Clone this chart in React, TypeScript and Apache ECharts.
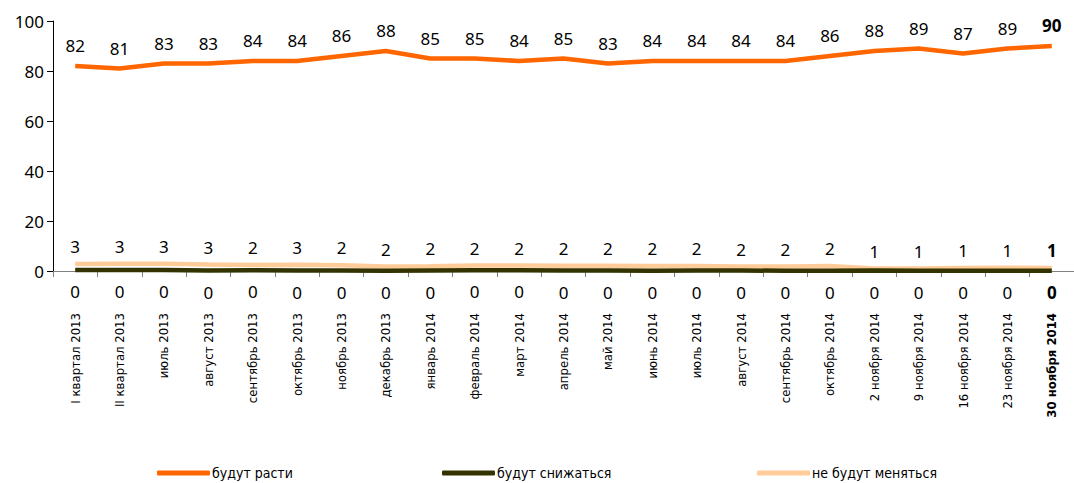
import React, { useEffect, useRef } from "react";
import * as echarts from "echarts";

const categories = [
  "I квартал 2013", "II квартал 2013", "июль 2013", "август 2013", "сентябрь 2013",
  "октябрь 2013", "ноябрь 2013", "декабрь 2013", "январь 2014", "февраль 2014",
  "март 2014", "апрель 2014", "май 2014", "июнь 2014", "июль 2014", "август 2014",
  "сентябрь 2014", "октябрь 2014", "2 ноября 2014", "9 ноября 2014", "16 ноября 2014",
  "23 ноября 2014", "30 ноября 2014",
];
const grow = [82, 81, 83, 83, 84, 84, 86, 88, 85, 85, 84, 85, 83, 84, 84, 84, 84, 86, 88, 89, 87, 89, 90];
const fall = [0.4, 0.4, 0.4, 0.2, 0.3, 0.2, 0.2, 0.1, 0.2, 0.3, 0.3, 0.2, 0.2, 0.1, 0.2, 0.2, 0.1, 0.1, 0.2, 0.1, 0.1, 0.1, 0.1];
const same = [2.8, 2.9, 2.9, 2.6, 2.4, 2.5, 2.3, 1.8, 1.9, 2.2, 2.2, 2.1, 2.1, 2.0, 2.0, 1.8, 1.8, 2.0, 1.0, 1.0, 1.2, 1.3, 1.2];
const seriesNames = ["будут расти", "будут снижаться", "не будут меняться"];
const colors = ["#FF6600", "#333300", "#FFCC99"];
const yTicks = { min: 0, max: 100, interval: 20 };

const NUM_FONT = "'Noto Sans', sans-serif";
const NARROW = "'Liberation Sans Narrow', 'DejaVu Sans Condensed', sans-serif";

export default function App() {
  const ref = useRef<HTMLDivElement>(null);
  useEffect(() => {
    if (!ref.current) return;
    const chart = echarts.init(ref.current, undefined, { renderer: "svg" });
    const last = categories.length - 1;
    const mk = (arr: number[]) =>
      arr.map((v, i) => (i === last ? { value: v, label: { fontWeight: "bold" } } : v));
    const lbl = (position: string, distance: number) => ({
      show: true,
      position,
      distance,
      fontSize: 17,
      fontFamily: NUM_FONT,
      color: "#000",
      formatter: (p: any) => String(Math.round(p.value)),
    });
    const series = [grow, fall, same].map((arr, k) => ({
      name: seriesNames[k],
      type: "line",
      data: mk(arr),
      showSymbol: true,
      symbol: "circle",
      symbolSize: 0,
      lineStyle: { color: colors[k], width: 4.5 },
      itemStyle: { color: colors[k] },
      label: k === 1 ? lbl("bottom", 13) : k === 0 ? lbl("top", 12) : lbl("top", 9),
      z: k === 1 ? 3 : k === 2 ? 2 : 4,
    }));
    const legendPos = [152, 437, 752];
    chart.setOption({
      animation: false,
      grid: { left: 53, top: 21, bottom: 212, width: 1024, containLabel: false },
      xAxis: {
        type: "category",
        data: categories,
        boundaryGap: true,
        axisLine: { lineStyle: { color: "#808080", width: 1 } },
        axisTick: { show: true, length: 6, lineStyle: { color: "#808080" } },
        axisLabel: {
          rotate: 90,
          interval: 0,
          margin: 42,
          fontSize: 13,
          fontFamily: NARROW,
          color: "#000",
          formatter: (v: string, i: number) => (i === last ? `{b|${v}}` : v),
          rich: { b: { fontWeight: "bold", fontSize: 13, fontFamily: NARROW, color: "#000" } },
        },
      },
      yAxis: {
        type: "value",
        min: yTicks.min,
        max: yTicks.max,
        interval: yTicks.interval,
        splitLine: { show: false },
        axisLine: { show: true, lineStyle: { color: "#000", width: 1 } },
        axisTick: { show: true, length: 6, lineStyle: { color: "#000" } },
        axisLabel: { fontSize: 17, fontFamily: NUM_FONT, color: "#000", margin: 9 },
      },
      legend: seriesNames.map((n, k) => ({
        data: [n],
        left: legendPos[k],
        top: 461,
        icon: "roundRect",
        itemWidth: 53,
        itemHeight: 5,
        itemGap: 0,
        textStyle: { fontSize: 14, fontFamily: NARROW, color: "#000", padding: [0, 0, 0, -3] },
      })),
      series,
    });
    return () => chart.dispose();
  }, []);
  return (
    <div
      ref={ref}
      style={{ position: "fixed", left: 0, top: 0, width: 1074, height: 483, background: "#fff" }}
    />
  );
}
